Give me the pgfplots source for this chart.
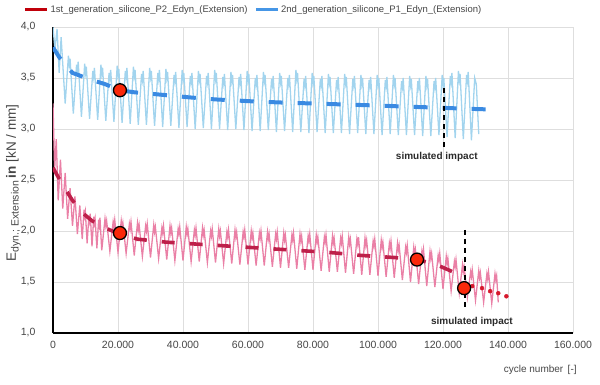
\documentclass[border=0pt]{standalone}
\usepackage{fontspec}
\setmainfont{Liberation Sans}
\usepackage{pgfplots}
\pgfplotsset{compat=1.18}
\definecolor{bluenoise}{RGB}{162,212,238}
\definecolor{bluemean}{RGB}{58,138,226}
\definecolor{rednoise}{RGB}{234,128,166}
\definecolor{redmean}{RGB}{190,32,74}
\definecolor{reddot}{RGB}{214,24,44}
\definecolor{mfill}{RGB}{250,40,10}
\definecolor{txt}{RGB}{70,70,70}
\definecolor{legred}{RGB}{192,0,10}
\definecolor{legblue}{RGB}{70,150,230}
\definecolor{gridc}{RGB}{222,222,222}
\begin{document}
\begin{tikzpicture}
\path[use as bounding box] (-53pt,-51pt) rectangle (547pt,333pt);
\begin{axis}[
  scale only axis, width=520pt, height=306pt,
  xmin=0, xmax=160000, ymin=1, ymax=4,
  xtick={0,20000,...,160000}, ytick={1,1.5,...,4},
  grid=major, major grid style={gridc, line width=0.8pt},
  axis x line*=bottom, axis y line*=left,
  axis line style={-, black, line width=1.4pt},
  major tick length=0pt,
  scaled x ticks=false, scaled y ticks=false,
  x tick label style={/pgf/number format/.cd, fixed, precision=0, 1000 sep={.}, /tikz/.cd, font=\fontsize{10.5}{12}\selectfont, text=txt, yshift=-5pt},
  y tick label style={/pgf/number format/.cd, fixed, fixed zerofill, precision=1, use comma, /tikz/.cd, font=\fontsize{10.5}{12}\selectfont, text=txt, xshift=-14pt},
  /pgf/number format/assume math mode=true,
  xlabel={cycle number\, [-]},
  xlabel style={font=\fontsize{10}{12}\selectfont, text=txt, at={(axis description cs:0.937,-0.121)}, anchor=center},
  ylabel={E\textsubscript{\fontsize{10.5}{11}\selectfont dyn.; Extension}\,\textbf{in} [kN / mm]},
  ylabel style={font=\fontsize{13.5}{15}\selectfont, text=txt, at={(axis description cs:-0.076,0.49)}, anchor=center},
  legend style={at={(axis description cs:-0.062,1.085)}, anchor=north west, draw=none, fill=none,
    font=\fontsize{9.5}{11}\selectfont, text=txt, legend columns=2,
    /tikz/every even column/.append style={column sep=5pt}},
  legend cell align=left,
  legend image code/.code={\draw[#1] (0pt,0pt) -- (22pt,0pt);},
  clip=true,
]
\addlegendimage{legred, line width=2.6pt}
\addlegendentry{1st\_generation\_silicone\_P2\_Edyn\_(Extension)}
\addlegendimage{legblue, line width=2.6pt}
\addlegendentry{2nd\_generation\_silicone\_P1\_Edyn\_(Extension)}

% blue noisy series
\addplot[bluenoise, line width=1.3pt, forget plot] coordinates {
(0,4.00) (600,3.78) (1250,3.98) (1900,3.55) (2500,3.90) (3750,3.25)
(4750,3.72) (5000,3.63) (5250,3.69) (6250,3.15)
(7250,3.63) (7500,3.57) (7750,3.66) (8750,3.12)
(9750,3.64) (10000,3.55) (10250,3.61) (11250,3.10)
(12250,3.57) (12500,3.51) (12750,3.60) (13750,3.09)
(14750,3.63) (15000,3.54) (15250,3.60) (16250,3.08)
(17250,3.55) (17500,3.49) (17750,3.58) (18750,3.07)
(19750,3.62) (20000,3.53) (20250,3.59) (21250,3.06)
(22250,3.57) (22500,3.51) (22750,3.60) (23750,3.05)
(24750,3.61) (25000,3.52) (25250,3.58) (26250,3.04)
(27250,3.54) (27500,3.48) (27750,3.57) (28750,3.04)
(29750,3.60) (30000,3.51) (30250,3.57) (31250,3.03)
(32250,3.55) (32500,3.49) (32750,3.58) (33750,3.02)
(34750,3.59) (35000,3.50) (35250,3.56) (36250,3.03)
(37250,3.53) (37500,3.47) (37750,3.56) (38750,3.01)
(39750,3.58) (40000,3.49) (40250,3.55) (41250,3.02)
(42250,3.52) (42500,3.46) (42750,3.55) (43750,3.00)
(44750,3.57) (45000,3.48) (45250,3.54) (46250,3.01)
(47250,3.52) (47500,3.46) (47750,3.55) (48750,3.00)
(49750,3.58) (50000,3.49) (50250,3.55) (51250,3.00)
(52250,3.51) (52500,3.45) (52750,3.54) (53750,2.99)
(54750,3.56) (55000,3.47) (55250,3.53) (56250,3.00)
(57250,3.51) (57500,3.45) (57750,3.54) (58750,2.99)
(59750,3.57) (60000,3.48) (60250,3.54) (61250,2.98)
(62250,3.50) (62500,3.44) (62750,3.53) (63750,2.98)
(64750,3.56) (65000,3.47) (65250,3.53) (66250,2.99)
(67250,3.49) (67500,3.43) (67750,3.52) (68750,2.97)
(69750,3.55) (70000,3.46) (70250,3.52) (71250,2.98)
(72250,3.50) (72500,3.44) (72750,3.53) (73750,2.97)
(74750,3.58) (75000,3.49) (75250,3.55) (76250,2.97)
(77250,3.49) (77500,3.43) (77750,3.52) (78750,2.96)
(79750,3.55) (80000,3.46) (80250,3.52) (81250,2.97)
(82250,3.49) (82500,3.43) (82750,3.52) (83750,2.96)
(84750,3.54) (85000,3.45) (85250,3.51) (86250,2.96)
(87250,3.48) (87500,3.42) (87750,3.51) (88750,2.96)
(89750,3.54) (90000,3.45) (90250,3.51) (91250,2.95)
(92250,3.49) (92500,3.43) (92750,3.52) (93750,2.96)
(94750,3.53) (95000,3.44) (95250,3.50) (96250,2.95)
(97250,3.48) (97500,3.42) (97750,3.51) (98750,2.95)
(99750,3.53) (100000,3.44) (100250,3.50) (101250,2.94)
(102250,3.48) (102500,3.42) (102750,3.51) (103750,2.95)
(104750,3.53) (105000,3.44) (105250,3.50) (106250,2.94)
(107250,3.47) (107500,3.41) (107750,3.50) (108750,2.94)
(109750,3.52) (110000,3.43) (110250,3.49) (111250,2.94)
(112250,3.47) (112500,3.41) (112750,3.50) (113750,2.93)
(114750,3.52) (115000,3.43) (115250,3.49) (116250,2.93)
(117250,3.47) (117500,3.41) (117750,3.50) (118750,2.94)
(119750,3.53) (120000,3.44) (120250,3.50) (121250,2.92)
(122250,3.52) (122500,3.46) (122750,3.55) (123750,2.91)
(124750,3.57) (125000,3.48) (125250,3.54) (126250,2.90)
(127250,3.53) (127500,3.47) (127750,3.56) (128750,2.89)
(129750,3.50) (130250,3.44) (131000,2.95)
};
% red noisy series
\addplot[rednoise, line width=1.3pt, forget plot] coordinates {
(0,3.25) (500,2.60) (1000,2.90) (1600,2.30) (2300,2.70) (3000,2.22) (3750,2.57) (4500,2.12)
(5250,2.42) (6000,2.05) (6750,2.34) (7500,1.97) (8250,2.25) (9000,1.92)
(9550,2.21) (9750,2.15) (9950,2.19) (10500,1.88)
(11050,2.15) (11250,2.10) (11450,2.17) (12000,1.85)
(12550,2.14) (12750,2.08) (12950,2.12) (13500,1.83)
(14050,2.11) (14250,2.06) (14450,2.13) (15000,1.81)
(16000,2.12) (16250,2.05) (16500,2.10) (17500,1.80)
(18500,2.09) (18750,2.04) (19000,2.11) (20000,1.79)
(21000,2.10) (21250,2.03) (21500,2.08) (22500,1.78)
(23500,2.07) (23750,2.02) (24000,2.09) (25000,1.76)
(26000,2.08) (26250,2.01) (26500,2.06) (27500,1.75)
(28500,2.05) (28750,2.00) (29000,2.07) (30000,1.74)
(31000,2.06) (31250,1.99) (31500,2.04) (32500,1.73)
(33500,2.03) (33750,1.98) (34000,2.05) (35000,1.72)
(36000,2.05) (36250,1.98) (36500,2.03) (37500,1.71)
(38500,2.02) (38750,1.97) (39000,2.04) (40000,1.71)
(41000,2.04) (41250,1.97) (41500,2.02) (42500,1.70)
(43500,2.01) (43750,1.96) (44000,2.03) (45000,1.70)
(46000,2.03) (46250,1.96) (46500,2.01) (47500,1.69)
(48500,2.00) (48750,1.95) (49000,2.02) (50000,1.69)
(51000,2.02) (51250,1.95) (51500,2.00) (52500,1.68)
(53500,1.99) (53750,1.94) (54000,2.01) (55000,1.68)
(56000,2.01) (56250,1.94) (56500,1.99) (57500,1.67)
(58500,1.99) (58750,1.94) (59000,2.01) (60000,1.67)
(61000,2.00) (61250,1.93) (61500,1.98) (62500,1.66)
(63500,1.98) (63750,1.93) (64000,2.00) (65000,1.66)
(66000,1.99) (66250,1.92) (66500,1.97) (67500,1.65)
(68500,1.97) (68750,1.92) (69000,1.99) (70000,1.64)
(71000,1.98) (71250,1.91) (71500,1.96) (72500,1.64)
(73500,1.96) (73750,1.91) (74000,1.98) (75000,1.63)
(76000,1.97) (76250,1.90) (76500,1.95) (77500,1.62)
(78500,1.95) (78750,1.90) (79000,1.97) (80000,1.62)
(81000,1.96) (81250,1.89) (81500,1.94) (82500,1.61)
(83500,1.94) (83750,1.89) (84000,1.96) (85000,1.60)
(86000,1.95) (86250,1.88) (86500,1.93) (87500,1.60)
(88500,1.93) (88750,1.88) (89000,1.95) (90000,1.59)
(91000,1.94) (91250,1.87) (91500,1.92) (92500,1.58)
(93500,1.92) (93750,1.87) (94000,1.94) (95000,1.57)
(96000,1.93) (96250,1.86) (96500,1.91) (97500,1.57)
(98500,1.90) (98750,1.85) (99000,1.92) (100000,1.56)
(101000,1.91) (101250,1.84) (101500,1.89) (102500,1.55)
(103500,1.88) (103750,1.83) (104000,1.90) (105000,1.54)
(106000,1.88) (106250,1.81) (106500,1.86) (107500,1.52)
(108500,1.84) (108750,1.79) (109000,1.86) (110000,1.50)
(111000,1.84) (111250,1.77) (111500,1.82) (112500,1.48)
(113500,1.80) (113750,1.75) (114000,1.82) (115000,1.46)
(116000,1.80) (116250,1.73) (116500,1.78) (117500,1.45)
(118500,1.76) (118750,1.71) (119000,1.78) (120000,1.43)
(121000,1.75) (121250,1.68) (121500,1.73) (122500,1.41)
(123500,1.70) (123750,1.65) (124000,1.72) (125000,1.39)
(126000,1.67) (126250,1.60) (126500,1.65) (127500,1.35)
(128500,1.60) (128750,1.55) (129000,1.62) (130000,1.32)
(131000,1.61) (131250,1.54) (131500,1.59) (132500,1.30)
(133500,1.58) (133750,1.53) (134000,1.60) (135000,1.29)
(136000,1.58) (136250,1.52) (136500,1.56) (137000,1.30)
};
% blue mean (dashed)
\addplot[bluemean, line width=4pt, dash pattern=on 14pt off 15pt, forget plot] coordinates {
(0,3.80) (2000,3.70) (6000,3.55) (12000,3.48) (16000,3.44) (20600,3.38) (25000,3.36) (32000,3.34)
(42000,3.31) (50000,3.29) (62000,3.27) (70000,3.26) (80000,3.25) (90000,3.24) (100000,3.23)
(108000,3.22) (118000,3.21) (126000,3.20) (136000,3.19)
};
% red mean (dashed)
\addplot[redmean, line width=3.6pt, dash pattern=on 13pt off 15pt, forget plot] coordinates {
(0,2.62) (3000,2.45) (6000,2.30) (9000,2.18) (12000,2.10) (16000,2.03) (20600,1.97) (26000,1.92)
(35000,1.89) (45000,1.87) (55000,1.85) (65000,1.83) (75000,1.81) (85000,1.79) (95000,1.76)
(105000,1.74) (112000,1.72) (118000,1.67) (123000,1.60) (127000,1.55)
};
% red extrapolation (dotted)
\addplot[reddot, only marks, mark=*, mark size=2pt, forget plot] coordinates {
(129000,1.46) (132000,1.44) (134500,1.41) (137000,1.39) (139500,1.36)
};
% impact lines
\addplot[black, line width=1.6pt, dash pattern=on 5pt off 4pt, forget plot] coordinates {(120300,3.40) (120300,2.82)};
\addplot[black, line width=1.6pt, dash pattern=on 5pt off 4pt, forget plot] coordinates {(126800,2.01) (126800,1.22)};
% highlighted points
\addplot[only marks, mark=*, mark size=6.5pt, mark options={fill=mfill, draw=black, line width=1.3pt}, forget plot] coordinates {
(20600,3.38) (20600,1.98) (112000,1.72) (126500,1.44)
};
\node[font=\bfseries\fontsize{10}{12}\selectfont, text=txt!60!black] at (axis cs:118100,2.73) {simulated impact};
\node[font=\bfseries\fontsize{10}{12}\selectfont, text=txt!60!black] at (axis cs:128900,1.11) {simulated impact};
\end{axis}
\end{tikzpicture}
\end{document}
